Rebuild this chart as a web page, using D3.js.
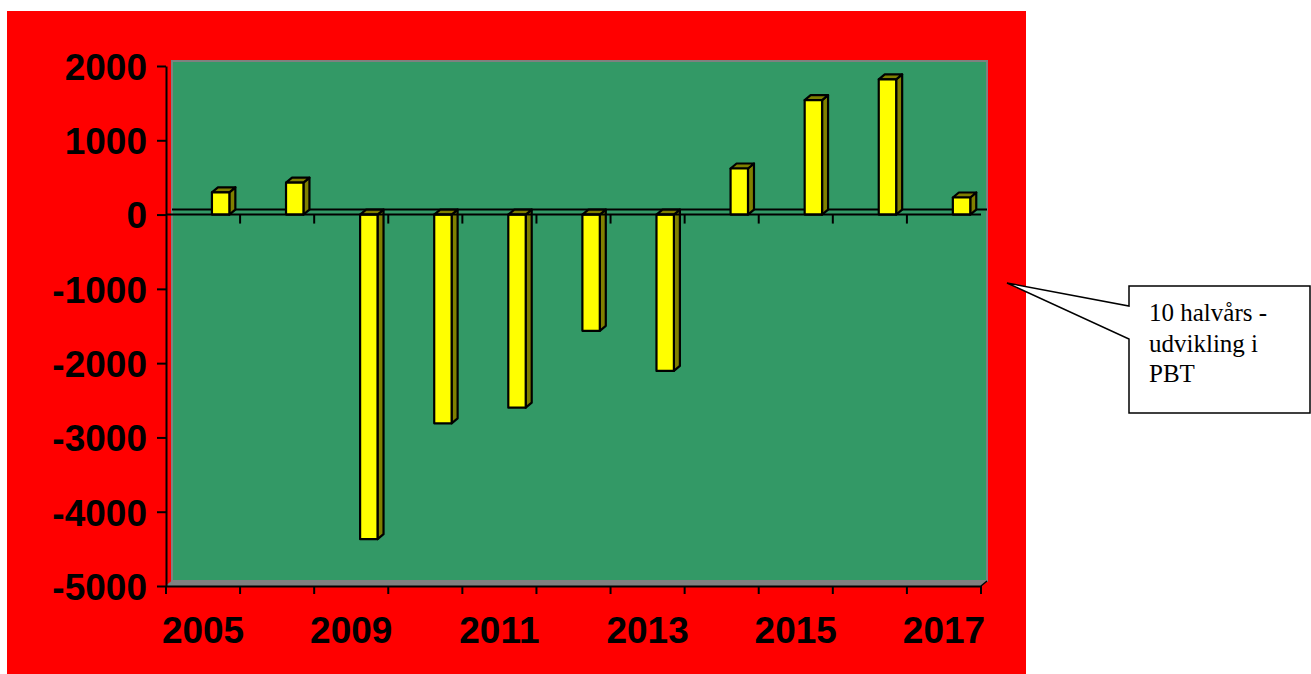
<!DOCTYPE html>
<html>
<head>
<meta charset="utf-8">
<script src="https://cdn.jsdelivr.net/npm/d3@7"></script>
<style>
  html, body { margin: 0; padding: 0; background: #ffffff; }
  svg { display: block; }
</style>
</head>
<body>
<svg id="chart" width="1311" height="674"></svg>
<script>
// ---- data ----
const categories = ["2005", "2007", "2009", "2010", "2011", "2012", "2013", "2014", "2015", "2016", "2017"];
const values = [300, 430, -4370, -2810, -2600, -1565, -2105, 620, 1540, 1820, 230];
const shownLabels = ["2005", "2009", "2011", "2013", "2015", "2017"];
const yTicks = [2000, 1000, 0, -1000, -2000, -3000, -4000, -5000];
const calloutLines = ["10 halvårs -", "udvikling i", "PBT"];

// ---- layout ----
const svg = d3.select("#chart");
const plotLeft = 166, plotRight = 981, plotTop = 66, plotBottom = 586;
const depthX = 6, depthY = 5;

const x = d3.scaleBand().domain(categories).range([plotLeft, plotRight]).paddingInner(0).paddingOuter(0);
const y = d3.scaleLinear().domain([-5000, 2000]).range([plotBottom, plotTop]);

// red chart area
svg.append("rect").attr("x", 7).attr("y", 11).attr("width", 1019).attr("height", 663).attr("fill", "#ff0000");

// back wall
svg.append("rect")
  .attr("x", plotLeft + depthX).attr("y", plotTop - depthY)
  .attr("width", plotRight - plotLeft).attr("height", plotBottom - plotTop)
  .attr("fill", "#339966").attr("stroke", "#808080").attr("stroke-width", 2);

// floor
svg.append("path")
  .attr("d", `M${plotLeft},${plotBottom} L${plotLeft + depthX},${plotBottom - depthY} L${plotRight + depthX},${plotBottom - depthY} L${plotRight},${plotBottom} Z`)
  .attr("fill", "#808080").attr("stroke", "#808080").attr("stroke-width", 1);

// back-wall zero line
svg.append("line")
  .attr("x1", plotLeft + depthX).attr("x2", plotRight + depthX)
  .attr("y1", y(0) - depthY).attr("y2", y(0) - depthY)
  .attr("stroke", "#000").attr("stroke-width", 2);

// bars
const bw = x.bandwidth();
const gBars = svg.append("g");
categories.forEach((c, i) => {
  const v = values[i];
  const x0 = x(c) + bw * 0.62;
  const x1 = x0 + bw * 0.235;
  const yTop = y(Math.max(v, 0));
  const yBot = y(Math.min(v, 0));
  const g = gBars.append("g").attr("stroke", "#000").attr("stroke-width", 2.2).attr("stroke-linejoin", "round");
  g.append("path")
    .attr("d", `M${x1},${yTop} L${x1 + depthX},${yTop - depthY} L${x1 + depthX},${yBot - depthY} L${x1},${yBot} Z`)
    .attr("fill", "#808000");
  g.append("path")
    .attr("d", `M${x0},${yTop} L${x0 + depthX},${yTop - depthY} L${x1 + depthX},${yTop - depthY} L${x1},${yTop} Z`)
    .attr("fill", "#808000");
  g.append("rect")
    .attr("x", x0).attr("y", yTop).attr("width", x1 - x0).attr("height", yBot - yTop)
    .attr("fill", "#ffff00");
});

// front zero axis with ticks
svg.append("line")
  .attr("x1", plotLeft).attr("x2", plotRight)
  .attr("y1", y(0)).attr("y2", y(0))
  .attr("stroke", "#000").attr("stroke-width", 2);
categories.forEach((c, i) => {
  if (i === 0) return;
  svg.append("line")
    .attr("x1", x(c)).attr("x2", x(c))
    .attr("y1", y(0)).attr("y2", y(0) + 9)
    .attr("stroke", "#000").attr("stroke-width", 2);
});

// y axis
const yAxis = d3.axisLeft(y).tickValues(yTicks).tickSize(9).tickSizeOuter(0).tickFormat(d => String(d));
const gy = svg.append("g").attr("transform", `translate(${plotLeft},0)`).call(yAxis);
gy.select(".domain").attr("stroke", "#000").attr("stroke-width", 2);
gy.selectAll(".tick line").attr("stroke", "#000").attr("stroke-width", 2);
gy.selectAll(".tick text")
  .attr("x", -19)
  .attr("dy", "0.36em")
  .attr("fill", "#000")
  .style("font-family", "'Liberation Sans', Arial, sans-serif")
  .style("font-weight", "bold")
  .style("font-size", "37px");

// x axis (bottom)
const xAxis = d3.axisBottom(x).tickSize(0).tickSizeOuter(0)
  .tickFormat(d => shownLabels.includes(d) ? d : "");
const gx = svg.append("g").attr("transform", `translate(0,${plotBottom})`).call(xAxis);
gx.select(".domain").attr("stroke", "#000").attr("stroke-width", 2);
gx.selectAll(".tick text")
  .attr("y", 57)
  .attr("dy", 0)
  .attr("fill", "#000")
  .style("font-family", "'Liberation Sans', Arial, sans-serif")
  .style("font-weight", "bold")
  .style("font-size", "37px");
const bounds = categories.map(c => x(c)).concat([plotRight]);
gx.selectAll(".bound").data(bounds).enter().append("line")
  .attr("x1", d => d).attr("x2", d => d).attr("y1", 0).attr("y2", 8)
  .attr("stroke", "#000").attr("stroke-width", 2);

svg.append("line")
  .attr("x1", plotRight).attr("y1", plotBottom)
  .attr("x2", plotRight + depthX).attr("y2", plotBottom - depthY)
  .attr("stroke", "#000").attr("stroke-width", 1.5);

// callout
const bx0 = 1129, bx1 = 1310, by0 = 286, by1 = 413;
svg.append("path")
  .attr("d", `M${bx0},${by0} L${bx1},${by0} L${bx1},${by1} L${bx0},${by1} L${bx0},339 L1007,283 L${bx0},306 Z`)
  .attr("fill", "#fff").attr("stroke", "#000").attr("stroke-width", 1.5).attr("stroke-linejoin", "miter");
svg.append("g").selectAll("text").data(calloutLines).enter().append("text")
  .attr("x", 1149)
  .attr("y", (d, i) => 321 + i * 30.5)
  .attr("fill", "#000")
  .style("font-family", "'Liberation Serif', 'Times New Roman', serif")
  .style("font-size", "25px")
  .text(d => d);
</script>
</body>
</html>
